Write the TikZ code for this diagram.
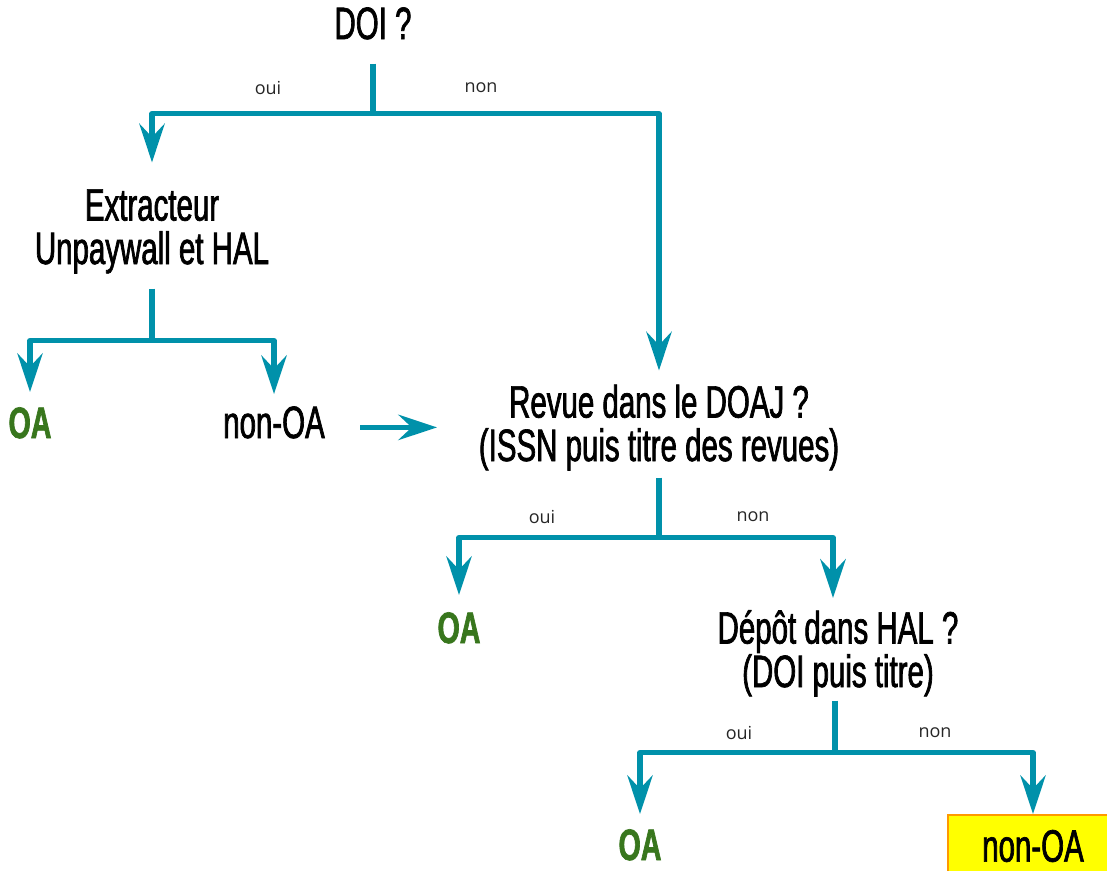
\documentclass[tikz,border=0pt]{standalone}
\usepackage{fontspec}
\setmainfont[FakeStretch=0.65, FakeBold=1.5]{Liberation Sans}
\newfontfamily\lblfont{Open Sans}
\usetikzlibrary{arrows.meta}
\definecolor{teal0}{HTML}{0091AA}
\definecolor{oagreen}{HTML}{38761D}
\definecolor{boxyellow}{HTML}{FFFF00}
\definecolor{boxorange}{HTML}{FF9900}
\begin{document}
\begin{tikzpicture}[x=0.75pt,y=-0.75pt,
 big/.style={font=\fontsize{34pt}{32.6pt}\selectfont, inner sep=0pt, align=center},
 oa/.style={font=\fontsize{33pt}{32.6pt}\selectfont\bfseries, inner sep=0pt, text=oagreen},
 lbl/.style={font=\lblfont\fontsize{13.5pt}{16pt}\selectfont, inner sep=0pt, text=black!85},
 flow/.style={draw=teal0, line width=4pt, line join=round, -{Stealth[length=29pt,width=19pt,inset=10pt]}}]
\useasboundingbox (0,0) rectangle (1107,871);

\node[big, anchor=base] (doi) at (373,39) {DOI ?};
\node[big, anchor=base] (ext) at (152,264) {Extracteur\\Unpaywall et HAL};
\node[oa, anchor=base] (oa1) at (30,438) {OA};
\node[big, anchor=base] (nonoa1) at (274,438) {non-OA};
\node[big, anchor=base] (revue) at (659,461) {Revue dans le DOAJ ?\\(ISSN puis titre des revues)};
\node[oa, anchor=base] (oa2) at (459,643) {OA};
\node[big, anchor=base] (depot) at (838,687) {Dépôt dans HAL ?\\(DOI puis titre)};
\node[oa, anchor=base] (oa3) at (640,860) {OA};
\node[big, draw=boxorange, fill=boxyellow, line width=1.5pt, minimum width=127.5pt, minimum height=46.5pt] (nonoa2) at (1033,846) {non-OA};

\node[lbl] (oui1) at (268,88) {oui};
\node[lbl] (non1) at (481,88) {non};
\node[lbl] (oui2) at (542,517) {oui};
\node[lbl] (non2) at (753,517) {non};
\node[lbl] (oui3) at (739,733) {oui};
\node[lbl] (non3) at (935,733) {non};

\draw[flow] ([yshift=-18pt]doi.south) -- ++(0,50) coordinate (j1) -| ([yshift=20pt]ext.north);
\draw[flow] (j1) -| ([yshift=10.5pt]revue.north);
\draw[flow] ([yshift=-11.25pt]ext.south) -- ++(0,52) coordinate (j2) -| ([yshift=11.25pt]oa1.north);
\draw[flow] (j2) -| ([yshift=9pt]nonoa1.north);
\draw[flow] ([xshift=26.25pt,yshift=-3.75pt]nonoa1.east) -- ++(77,0);
\draw[flow] ([yshift=-5.25pt]revue.south) -- ++(0,60) coordinate (j3) -| ([yshift=12.75pt]oa2.north);
\draw[flow] (j3) -| ([xshift=-3.75pt,yshift=9pt]depot.north);
\draw[flow] ([xshift=-2.25pt,yshift=-3pt]depot.south) -- ++(0,52) coordinate (j4) -| ([yshift=11.25pt]oa3.north);
\draw[flow] (j4) -| (nonoa2.north);
\end{tikzpicture}
\end{document}
